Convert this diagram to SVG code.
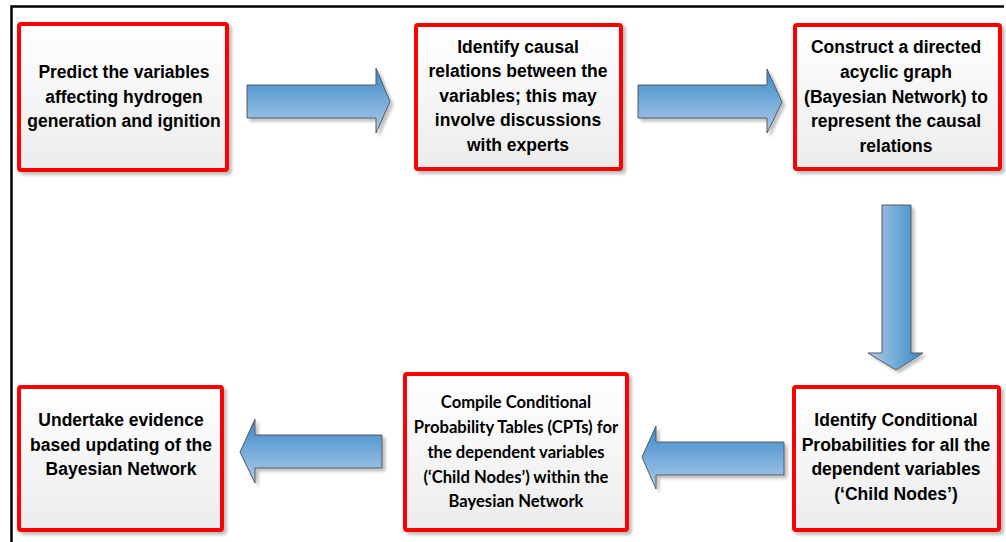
<svg xmlns="http://www.w3.org/2000/svg" width="1006" height="542" viewBox="0 0 1006 542">
<defs>
<linearGradient id="boxFill" x1="0" y1="0" x2="0" y2="1">
<stop offset="0" stop-color="#ffffff"/>
<stop offset="1" stop-color="#ececec"/>
</linearGradient>
<linearGradient id="arrV" x1="0" y1="0" x2="0" y2="1">
<stop offset="0" stop-color="#3a88c9"/>
<stop offset="1" stop-color="#aecde9"/>
</linearGradient>
<linearGradient id="arrH" x1="0" y1="0" x2="1" y2="0">
<stop offset="0" stop-color="#aecde9"/>
<stop offset="1" stop-color="#3a88c9"/>
</linearGradient>
<filter id="sh" x="-10%" y="-10%" width="130%" height="130%">
<feGaussianBlur in="SourceAlpha" stdDeviation="1.5"/>
<feOffset dx="3" dy="3" result="b"/>
<feComponentTransfer><feFuncA type="linear" slope="0.25"/></feComponentTransfer>
<feMerge><feMergeNode/><feMergeNode in="SourceGraphic"/></feMerge>
</filter>
</defs>
<style>
.box{fill:url(#boxFill);stroke:#ff0000;stroke-width:4;filter:url(#sh)}
.t{font-family:"Liberation Sans",Arial,sans-serif;font-weight:bold;font-size:17.5px;fill:#000;text-anchor:middle}
.c{font-family:Lato,"Open Sans",sans-serif;font-weight:bold;font-size:16.6px;fill:#000;text-anchor:middle}
.arr{stroke:#555a60;stroke-width:1;filter:url(#sh)}
.frame{stroke:#000;stroke-width:2.5;fill:none}
</style>
<path class="frame" d="M11.5,542 V6.5 H1004"/>
<g id="connectors">
<polygon class="arr" fill="url(#arrV)" points="247,85 376,85 376,68 390,101.5 376,133 376,118 247,118"/>
<polygon class="arr" fill="url(#arrV)" points="638,85 767,85 767,69 782,102 767,133 767,118 638,118"/>
<polygon class="arr" fill="url(#arrH)" points="882,205 911,205 911,353 923,353 896,370 868,353 882,353"/>
<polygon class="arr" fill="url(#arrV)" points="784,442 656,442 656,426 642,457 656,489 656,475 784,475"/>
<polygon class="arr" fill="url(#arrV)" points="382,435 255,435 255,419 240,452 255,483 255,468 382,468"/>
</g>
<g id="node1">
<rect class="box" x="19" y="24" width="208" height="146" rx="2"/>
<text class="t" x="124" y="78">Predict the variables</text>
<text class="t" x="124" y="103">affecting hydrogen</text>
<text class="t" x="124" y="127">generation and ignition</text>
</g>
<g id="node2">
<rect class="box" x="416" y="25" width="205" height="144" rx="2"/>
<text class="t" x="518" y="53">Identify causal</text>
<text class="t" x="518" y="77">relations between the</text>
<text class="t" x="518" y="102">variables; this may</text>
<text class="t" x="518" y="126">involve discussions</text>
<text class="t" x="518" y="151">with experts</text>
</g>
<g id="node3">
<rect class="box" x="795" y="25" width="205" height="144" rx="2"/>
<text class="t" x="896" y="53">Construct a directed</text>
<text class="t" x="896" y="78">acyclic graph</text>
<text class="t" x="896" y="103">(Bayesian Network) to</text>
<text class="t" x="896" y="127">represent the causal</text>
<text class="t" x="896" y="152">relations</text>
</g>
<g id="node4">
<rect class="box" x="794" y="387" width="205" height="143" rx="2"/>
<text class="t" x="896" y="426">Identify Conditional</text>
<text class="t" x="896" y="451">Probabilities for all the</text>
<text class="t" x="896" y="475">dependent variables</text>
<text class="t" x="896" y="500">(‘Child Nodes’)</text>
</g>
<g id="node5">
<rect class="box" x="405" y="374" width="222" height="156" rx="2"/>
<text class="c" x="516" y="408">Compile Conditional</text>
<text class="c" x="516" y="433">Probability Tables (CPTs) for</text>
<text class="c" x="516" y="458">the dependent variables</text>
<text class="c" x="516" y="483">(‘Child Nodes’) within the</text>
<text class="c" x="516" y="507">Bayesian Network</text>
</g>
<g id="node6">
<rect class="box" x="19" y="387" width="203" height="143" rx="2"/>
<text class="t" x="121" y="426">Undertake evidence</text>
<text class="t" x="121" y="451">based updating of the</text>
<text class="t" x="121" y="475">Bayesian Network</text>
</g>
</svg>
